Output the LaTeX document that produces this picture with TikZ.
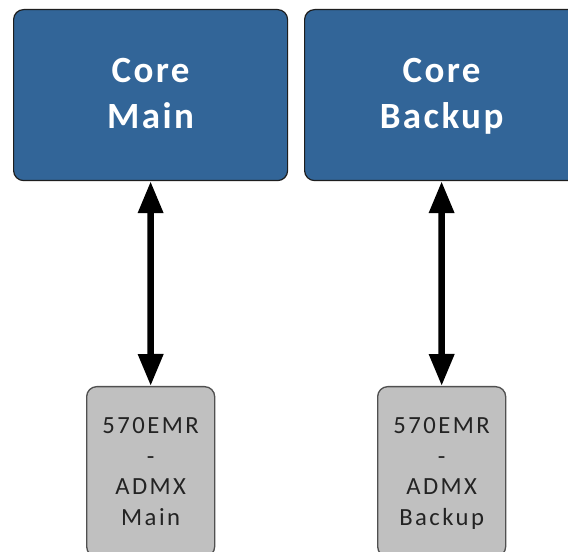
\documentclass[tikz,border=0pt]{standalone}
\usepackage{fontspec}
\setmainfont{Carlito}
\newfontfamily\headfont[LetterSpace=6.5]{Carlito}
\newfontfamily\smallfont[LetterSpace=10]{Carlito}
\usetikzlibrary{arrows.meta}
\definecolor{coreblue}{RGB}{50,101,152}
\definecolor{coreedge}{RGB}{30,30,30}
\definecolor{boxgray}{RGB}{192,192,192}
\definecolor{grayedge}{RGB}{80,80,80}
\definecolor{smalltext}{RGB}{35,35,35}
\tikzset{
  corebox/.style={draw=coreedge, line width=0.9pt, fill=coreblue, rounded corners=7.5pt,
    minimum width=205.5pt, minimum height=128.25pt, anchor=north west,
    text=white, align=center, font=\headfont\fontsize{27.75}{34.5}\selectfont\bfseries,
    inner sep=0pt, text depth=2.5pt},
  admxbox/.style={draw=grayedge, line width=1pt, fill=boxgray, rounded corners=7.5pt,
    minimum width=96pt, minimum height=127.5pt, anchor=north west,
    text=smalltext, align=center, font=\smallfont\fontsize{18.5}{22.9}\selectfont,
    inner sep=0pt, text depth=0pt},
  bigarrow/.style={line width=5pt, {Triangle[length=24pt,width=18pt]}-{Triangle[length=24pt,width=18pt]}}
}
\begin{document}
\begin{tikzpicture}[x=0.75pt,y=-0.75pt]
\clip (0,0) rectangle (568,552);
\fill[white] (0,0) rectangle (568,552);
\node[corebox] (coremain) at (13,9) {Core\\Main};
\node[corebox] (corebackup) at (304,9) {Core\\Backup};
\node[admxbox] (admxmain) at (86,386) {570EMR\\-\\ADMX\\Main};
\node[admxbox] (admxbackup) at (377,386) {570EMR\\-\\ADMX\\Backup};
\draw[bigarrow] (coremain.south) -- (admxmain.north);
\draw[bigarrow] (corebackup.south) -- (admxbackup.north);
\end{tikzpicture}
\end{document}
